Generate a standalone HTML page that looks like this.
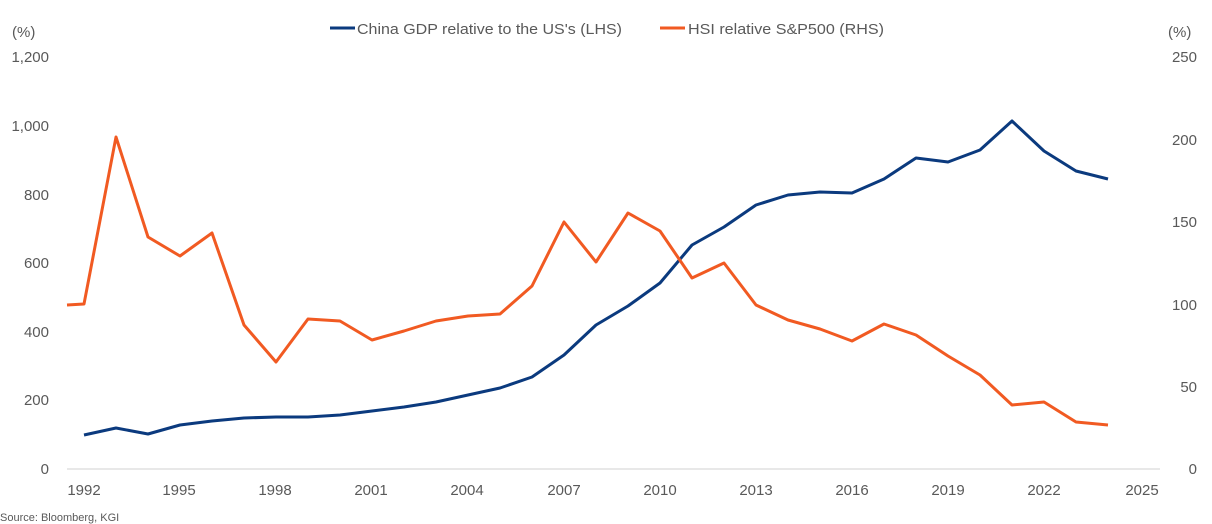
<!DOCTYPE html>
<html><head><meta charset="utf-8"><style>
html,body{margin:0;padding:0;background:#fff;}
svg{display:block;font-family:"Liberation Sans",Arial,sans-serif;}
</style></head><body>
<svg width="1212" height="524" viewBox="0 0 1212 524">
<g fill="#595959" font-size="15">
<text x="12" y="37">(%)</text>
<text x="1168" y="37">(%)</text>
<g text-anchor="end">
<text x="49" y="62">1,200</text>
<text x="49" y="131">1,000</text>
<text x="49" y="200">800</text>
<text x="49" y="268">600</text>
<text x="49" y="337">400</text>
<text x="49" y="405">200</text>
<text x="49" y="474">0</text>
</g>
<g text-anchor="end">
<text x="1197" y="62">250</text>
<text x="1197" y="145">200</text>
<text x="1197" y="227">150</text>
<text x="1197" y="310">100</text>
<text x="1197" y="392">50</text>
<text x="1197" y="474">0</text>
</g>
<g text-anchor="middle">
<text x="84" y="495">1992</text>
<text x="179" y="495">1995</text>
<text x="275" y="495">1998</text>
<text x="371" y="495">2001</text>
<text x="467" y="495">2004</text>
<text x="564" y="495">2007</text>
<text x="660" y="495">2010</text>
<text x="756" y="495">2013</text>
<text x="852" y="495">2016</text>
<text x="948" y="495">2019</text>
<text x="1044" y="495">2022</text>
<text x="1142" y="495">2025</text>
</g>
<text x="357" y="34" textLength="265" lengthAdjust="spacingAndGlyphs">China GDP relative to the US's (LHS)</text>
<text x="688" y="34" textLength="196" lengthAdjust="spacingAndGlyphs">HSI relative S&amp;P500 (RHS)</text>
<text x="0" y="521" font-size="11">Source: Bloomberg, KGI</text>
</g>
<line x1="330" y1="28" x2="355" y2="28" stroke="#0b3a7e" stroke-width="3"/>
<line x1="660" y1="28" x2="685" y2="28" stroke="#f15a22" stroke-width="3"/>
<line x1="67" y1="469" x2="1160" y2="469" stroke="#d0d0d0" stroke-width="1"/>
<polyline fill="none" stroke="#0b3a7e" stroke-width="3" stroke-linejoin="round" points="84,435 116,428 148,434 180,425 212,421 244,418 276,417 308,417 340,415 372,411 404,407 436,402 468,395 500,388 532,377 564,355 596,325 628,306 660,283 692,245 724,227 756,205 788,195 820,192 852,193 884,179 916,158 948,162 980,150 1012,121 1044,151 1076,171 1108,179"/>
<polyline fill="none" stroke="#f15a22" stroke-width="3" stroke-linejoin="round" points="67,305 84,304 116,137 148,237 180,256 212,233 244,325 276,362 308,319 340,321 372,340 404,331 436,321 468,316 500,314 532,286 564,222 596,262 628,213 660,231 692,278 724,263 756,305 788,320 820,329 852,341 884,324 916,335 948,356 980,375 1012,405 1044,402 1076,422 1108,425"/>
</svg>
</body></html>
